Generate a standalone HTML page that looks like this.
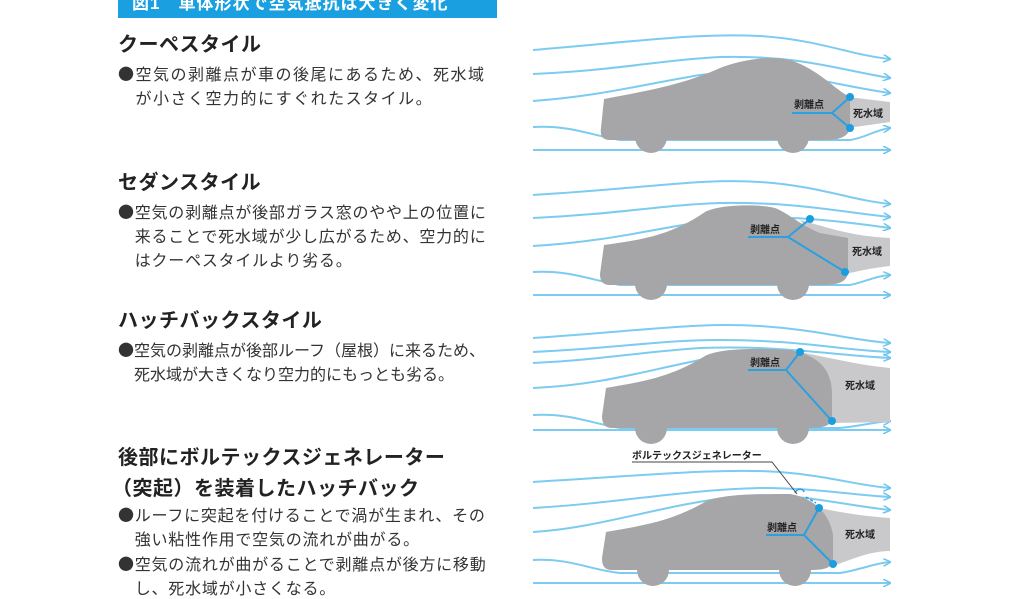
<!DOCTYPE html>
<html><head><meta charset="utf-8"><style>
body{margin:0;width:1024px;height:592px;background:#fff;overflow:hidden;position:relative;font-family:"Liberation Sans","Noto Sans CJK JP",sans-serif;color:#222}
.t{position:absolute;left:118px;white-space:nowrap}
.h{font-size:20px;font-weight:bold;letter-spacing:0.5px;font-family:"Noto Sans CJK JP",sans-serif}
.b{font-size:16px;line-height:20px;color:#333;font-family:"Noto Sans CJK JP",sans-serif}
.s1{letter-spacing:1.5px}.s2{letter-spacing:0.77px}.s3{letter-spacing:0px}
svg{position:absolute;left:0;top:0}
</style></head><body>
<div style="position:absolute;left:118px;top:-4px;width:379px;height:22px;background:#1aa0e0;color:#fff;font-weight:bold;font-size:17px;line-height:16px;padding-left:14px;box-sizing:border-box;letter-spacing:1px;overflow:hidden">図1　車体形状で空気抵抗は大きく変化</div>
<div class="t h" style="top:28px">クーペスタイル</div>
<div class="t b s1" style="top:63px">●空気の剥離点が車の後尾にあるため、死水域</div>
<div class="t b s1" style="top:87px">　が小さく空力的にすぐれたスタイル。</div>
<div class="t h" style="top:166px">セダンスタイル</div>
<div class="t b s2" style="top:201px">●空気の剥離点が後部ガラス窓のやや上の位置に</div>
<div class="t b s2" style="top:225px">　来ることで死水域が少し広がるため、空力的に</div>
<div class="t b s2" style="top:249px">　はクーペスタイルより劣る。</div>
<div class="t h" style="top:304px">ハッチバックスタイル</div>
<div class="t b s3" style="top:339px">●空気の剥離点が後部ルーフ（屋根）に来るため、</div>
<div class="t b s3" style="top:363px">　死水域が大きくなり空力的にもっとも劣る。</div>
<div class="t h" style="top:441px">後部にボルテックスジェネレーター</div>
<div class="t h" style="top:472px;left:112px">（突起）を装着したハッチバック</div>
<div class="t b s2" style="top:504px">●ルーフに突起を付けることで渦が生まれ、その</div>
<div class="t b s2" style="top:528px">　強い粘性作用で空気の流れが曲がる。</div>
<div class="t b s2" style="top:553px">●空気の流れが曲がることで剥離点が後方に移動</div>
<div class="t b s2" style="top:577px">　し、死水域が小さくなる。</div>
<svg width="1024" height="592" viewBox="0 0 1024 592">
<defs><marker id="a" markerWidth="8" markerHeight="8" refX="7" refY="4" orient="auto" markerUnits="userSpaceOnUse"><path d="M0,0 L8,4 L0,8" fill="none" stroke="#6cc4ee" stroke-width="1.5"/></marker></defs>
<g fill="none" stroke="#7ccbf0" stroke-width="2" marker-end="url(#a)">
<path d="M533,50 C650,40 700,33 760,36 C820,40 850,55 890,59"/>
<path d="M533,74 C620,70 660,60 720,57 C800,55 840,70 890,78"/>
<path d="M533,101 C600,96 640,85 700,75 C780,65 830,85 890,93"/>
<path d="M533,127 C570,125 590,135 620,140 L850,140 C865,138 875,130 890,128"/>
<path d="M533,150 L890,150"/>
<path d="M533,195 C650,188 700,178 760,182 C820,186 850,200 890,204"/>
<path d="M533,218 C620,214 660,205 720,203 C800,202 840,212 890,217"/>
<path d="M533,246 C600,242 640,232 700,222 C770,212 830,220 890,228"/>
<path d="M533,272 C570,270 590,280 620,285 L850,285 C865,282 875,276 890,275"/>
<path d="M533,295 L890,295"/>
<path d="M533,338 C650,330 700,322 760,326 C820,330 850,340 890,343"/>
<path d="M533,352 C620,348 660,340 720,340 C800,340 840,350 890,352"/>
<path d="M533,363 C600,360 640,352 700,348 C780,345 830,355 890,358"/>
<path d="M533,388 C600,385 640,372 700,360 C760,350 790,355 800,360"/>
<path d="M533,415 C570,413 590,423 620,428 L840,428 C860,426 875,422 890,421"/>
<path d="M533,482 C650,475 720,468 780,472 C830,476 860,486 890,488"/>
<path d="M533,508 C620,503 680,490 760,488 C820,488 850,495 890,497"/>
<path d="M533,532 C600,528 660,505 740,496 C800,492 840,505 890,510"/>
<path d="M533,560 C570,558 590,570 620,573 L840,573 C860,570 875,563 890,562"/>
<path d="M533,583 L890,583"/>
</g>
<path d="M533,430 L890,430" stroke="#7ccbf0" stroke-width="2" marker-end="url(#a)"/>
<g fill="#c9c9cb">
<path d="M848,97 L890,102 L890,122 L848,128Z"/>
<path d="M800,220 C830,228 850,236 890,238 L890,266 C870,268 855,272 845,274Z"/>
<path d="M800,352 C840,360 860,365 890,368 L890,422 L832,423Z"/>
<path d="M819,508 C840,512 860,516 890,518 L890,551 C870,551 850,560 833,566Z"/>
</g>
<g fill="#a6a6a8">
<path d="M604,99 C640,92 680,86 720,68 C740,60 770,55 790,60 C820,70 835,90 850,97 L850,130 C845,138 840,140 820,140 L610,140 C602,140 600,135 601,128Z"/>
<circle cx="651" cy="137" r="16"/><circle cx="793" cy="137" r="16"/>
<path d="M604,245 C640,240 670,236 705,212 C720,204 760,204 775,208 C790,214 800,225 820,233 L848,238 L848,274 C845,282 840,285 820,285 L610,285 C602,285 600,280 600,274Z"/>
<circle cx="651" cy="284" r="16"/><circle cx="793" cy="284" r="16"/>
<path d="M606,388 C640,382 670,378 705,356 C720,348 760,348 790,350 C820,356 832,370 832,395 L832,420 C830,425 825,428 810,428 L612,428 C604,428 602,422 602,416Z"/>
<circle cx="651" cy="428" r="16"/><circle cx="793" cy="428" r="16"/>
<path d="M606,532 C640,526 670,522 705,502 C720,494 760,494 790,494 C815,498 830,515 833,535 L833,562 C830,568 825,570 810,570 L612,570 C604,570 602,565 602,558Z"/>
<circle cx="653" cy="570" r="16"/><circle cx="795" cy="570" r="16"/>
</g>
<g stroke="#2aa0e0" stroke-width="2" fill="none">
<path d="M792,113 L832,113 L850,97 M832,113 L850,128"/>
<path d="M748,237 L788,237 L810,219 M788,237 L845,272"/>
<path d="M748,370 L786,370 L800,352 M786,370 L832,421"/>
<path d="M766,535 L804,535 L819,508 M804,535 L833,564"/>
<path d="M795,493 C797,488 803,488 804,492" stroke-width="1.5"/>
<path d="M806,497 L816,503" stroke-dasharray="3,2" stroke-width="1.5"/>
</g>
<g fill="#1a9ee0">
<circle cx="850" cy="97" r="4"/><circle cx="850" cy="128" r="4"/>
<circle cx="810" cy="219" r="4"/><circle cx="845" cy="272" r="4"/>
<circle cx="800" cy="352" r="4"/><circle cx="832" cy="421" r="4"/>
<circle cx="819" cy="508" r="4"/><circle cx="833" cy="564" r="4"/>
</g>
<path d="M632,462 L772,462 L797,494" stroke="#444" stroke-width="1" fill="none"/>
<g font-family="Noto Sans CJK JP,sans-serif" font-size="10" fill="#222" font-weight="bold">
<text x="794" y="108">剥離点</text>
<text x="853" y="117">死水域</text>
<text x="750" y="233">剥離点</text>
<text x="852" y="255">死水域</text>
<text x="750" y="366">剥離点</text>
<text x="845" y="389">死水域</text>
<text x="767" y="531">剥離点</text>
<text x="845" y="538">死水域</text>
<text x="632" y="459">ボルテックスジェネレーター</text>
</g>
</svg>
</body></html>
